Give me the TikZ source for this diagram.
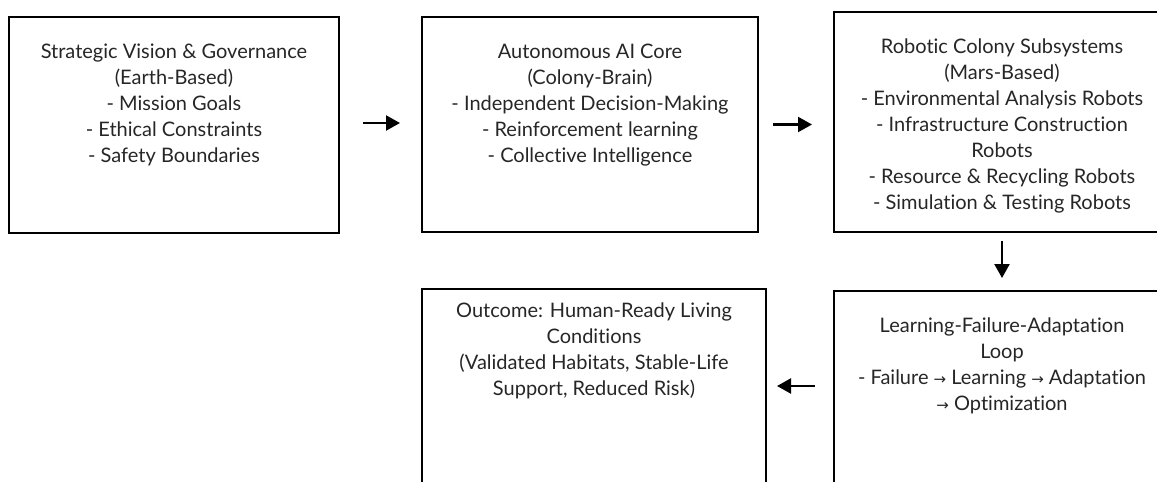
\documentclass[tikz,border=0pt]{standalone}
\usepackage{fontspec}
\setmainfont{Lato}[Ligatures=NoCommon]
\newfontfamily\arrowfont{DejaVu Sans}
\usetikzlibrary{arrows.meta,calc}
\newcommand{\sar}{{\arrowfont\fontsize{15}{26}\selectfont →}}
\begin{document}
\begin{tikzpicture}[x=1pt,y=-1pt,
  box/.style={draw=black, line width=2pt, rectangle, inner sep=0pt, outer sep=0pt, anchor=north west},
  txt/.style={align=center, inner sep=0pt, anchor=north, font=\fontsize{20}{26}\selectfont, text=black!85},
  arr/.style={line width=2.2pt, -{Triangle[length=14pt,width=15pt]}}]
\useasboundingbox (0,0) rectangle (1157,482);
\node[box, minimum width=330pt, minimum height=216pt] (b1) at (9,17) {};
\node[box, minimum width=336pt, minimum height=215pt] (b2) at (422,17) {};
\node[box, minimum width=336pt, minimum height=220pt] (b3) at (834,12) {};
\node[box, minimum width=336pt, minimum height=230pt] (b4) at (834,291) {};
\node[box, minimum width=344pt, minimum height=232pt] (b5) at (422,289) {};
\node[txt] (t1) at ($(b1.north)+(0,22.8)$) {\strut Strategic Vision \& Governance\\(Earth-Based)\\- Mission Goals\\- Ethical Constraints\\- Safety Boundaries};
\node[txt] (t2) at ($(b2.north)+(0,22.8)$) {\strut Autonomous AI Core\\(Colony-Brain)\\- Independent Decision-Making\\- Reinforcement learning\\- Collective Intelligence};
\node[txt] (t3) at ($(b3.north)+(0,22.8)$) {\strut Robotic Colony Subsystems\\(Mars-Based)\\- Environmental Analysis Robots\\- Infrastructure Construction\\Robots\\- Resource \& Recycling Robots\\- Simulation \& Testing Robots};
\node[txt] (t4) at ($(b4.north)+(0,22.8)$) {\strut Learning-Failure-Adaptation\\Loop\\- Failure \sar{} Learning \sar{} Adaptation\\\sar{} Optimization};
\node[txt] (t5) at ($(b5.north)+(0,9.8)$) {\strut Outcome: Human-Ready Living\\Conditions\\(Validated Habitats, Stable-Life\\Support, Reduced Risk)};
\coordinate (m) at (0,386);
\draw[arr] ([xshift=24pt,yshift=2pt]b1.east) -- ([xshift=-22pt,yshift=2pt]b1.east -| b2.west);
\draw[arr] ([xshift=15pt]b2.east) -- ([xshift=-22pt]b2.east -| b3.west);
\draw[arr] ([yshift=-9pt]b3.south) -- ([yshift=13pt]b4.north);
\draw[arr] ([xshift=-19pt]b4.west |- m) -- ([xshift=11pt]b5.east |- m);
\end{tikzpicture}
\end{document}
